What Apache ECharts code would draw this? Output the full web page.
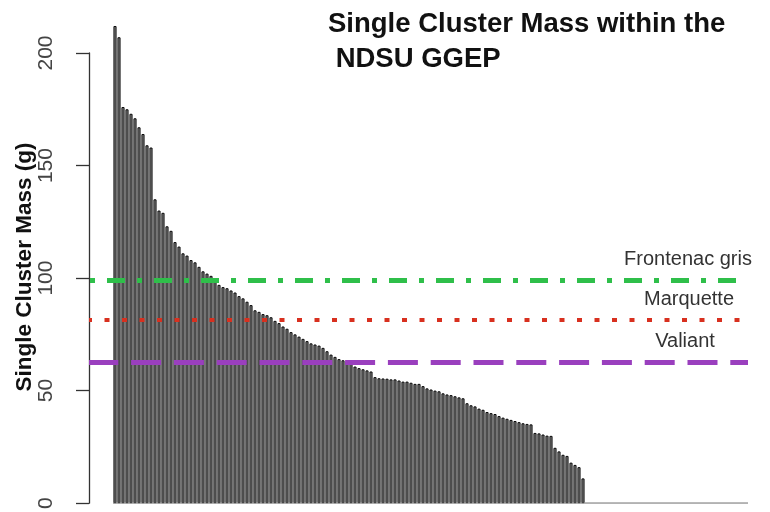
<!DOCTYPE html>
<html><head><meta charset="utf-8">
<script src="https://cdn.jsdelivr.net/npm/echarts@6/dist/echarts.min.js"></script>
<style>html,body{margin:0;padding:0;background:#fff}#c{width:770px;height:512px}</style>
</head><body><div id="c"></div>
<script>
// Single cluster mass (g), sorted descending
const massValues = [
  212, 207, 176, 175, 173, 171, 167, 164, 159, 158,
  135, 130, 129, 123, 121, 116, 114, 111, 110, 108,
  107, 105, 103, 102, 101, 99, 97, 96, 95.5, 94.5,
  93.6, 92, 91, 89.5, 88, 85.7, 85, 84, 83.5, 82.6,
  81, 80, 78.5, 77.5, 76, 75, 74, 73, 72, 71,
  70.5, 70, 69, 67.5, 66, 65, 64, 63.5, 63, 62,
  60.7, 60, 59.5, 59, 58.5, 56, 55.5, 55.4, 55.3, 55,
  55, 54.5, 54, 54, 53.5, 53, 53, 52, 51, 50.5,
  50, 49.7, 48.8, 48.3, 48, 47.5, 47, 46.6, 44.4, 43.5,
  43, 42, 41.5, 40.5, 40, 39.6, 38.7, 38, 37.5, 37,
  36.5, 36, 35.5, 35.2, 35, 31.2, 31, 30.5, 30, 29.9,
  24.6, 23, 21.5, 21, 18, 17, 16, 11
];
const yTickMin = 0, yTickMax = 200, yTickStep = 50;
const refNames = ['Frontenac gris', 'Marquette', 'Valiant'];
const refValues = [98.9, 81.3, 62.4];
const titleLines = ['Single Cluster Mass within the', ' NDSU GGEP'];
const yAxisTitle = 'Single Cluster Mass (g)';

const refStyles = [
  {color: '#2fbf4a', width: 5, type: [18, 12, 5, 12], dashOffset: 29},
  {color: '#d8301f', width: 4, type: [5, 12.5], dashOffset: 2},
  {color: '#9a3fbe', width: 5, type: [30, 12.8], dashOffset: 0.7}
];

const chart = echarts.init(document.getElementById('c'), null, {renderer: 'canvas'});
const font = '"Liberation Sans", Arial, Helvetica, sans-serif';

chart.setOption({
  animation: false,
  backgroundColor: '#ffffff',
  title: {
    text: titleLines.join('\n'),
    left: 328, top: 7,
    padding: 0,
    textStyle: {fontFamily: font, fontSize: 27.5, fontWeight: 'bold', color: '#111', lineHeight: 35}
  },
  grid: {left: 89, right: 22, top: 53, bottom: 4, containLabel: false},
  xAxis: {
    type: 'value', min: -6.5, max: 158.25, show: false
  },
  yAxis: {
    type: 'value', min: yTickMin, max: yTickMax, interval: yTickStep,
    axisLine: {show: true, onZero: false, lineStyle: {color: '#333', width: 1.3}},
    axisTick: {show: true, length: 13, lineStyle: {color: '#333', width: 1.3}},
    splitLine: {show: false},
    axisLabel: {rotate: 90, margin: 32, fontFamily: font, fontSize: 21, color: '#444'}
  },
  series: [{
    type: 'bar',
    data: massValues.map((v, i) => [i, v]),
    barWidth: 3.1,
    clip: false,
    itemStyle: {color: '#858585', borderColor: '#0a0a0a', borderWidth: 1},
    markLine: {
      silent: true, symbol: 'none', animation: false,
      label: {show: false},
      data: refValues.map((v, k) => ({
        yAxis: v,
        lineStyle: {color: refStyles[k].color, width: refStyles[k].width, type: refStyles[k].type, dashOffset: refStyles[k].dashOffset, cap: 'butt', opacity: 1}
      }))
    }
  }, {
    type: 'line',
    data: [[-0.5, 0], [158.25, 0]],
    symbol: 'none', silent: true,
    lineStyle: {color: '#777', width: 1.2}
  }]
});

const refLabelX = [688, 689, 685];
const graphics = refNames.map((name, k) => ({
  type: 'text',
  x: refLabelX[k],
  y: chart.convertToPixel({yAxisIndex: 0}, refValues[k]) - 21,
  style: {text: name, fontFamily: font, fontSize: 20, fill: '#333', textAlign: 'center', textVerticalAlign: 'middle'}
}));
graphics.push({
  type: 'text', x: 25, y: 267, rotation: Math.PI / 2,
  style: {text: yAxisTitle, fontFamily: font, fontSize: 22.5, fontWeight: 'bold', fill: '#111', textAlign: 'center', textVerticalAlign: 'middle'}
});
chart.setOption({graphic: graphics});
</script>
</body></html>
